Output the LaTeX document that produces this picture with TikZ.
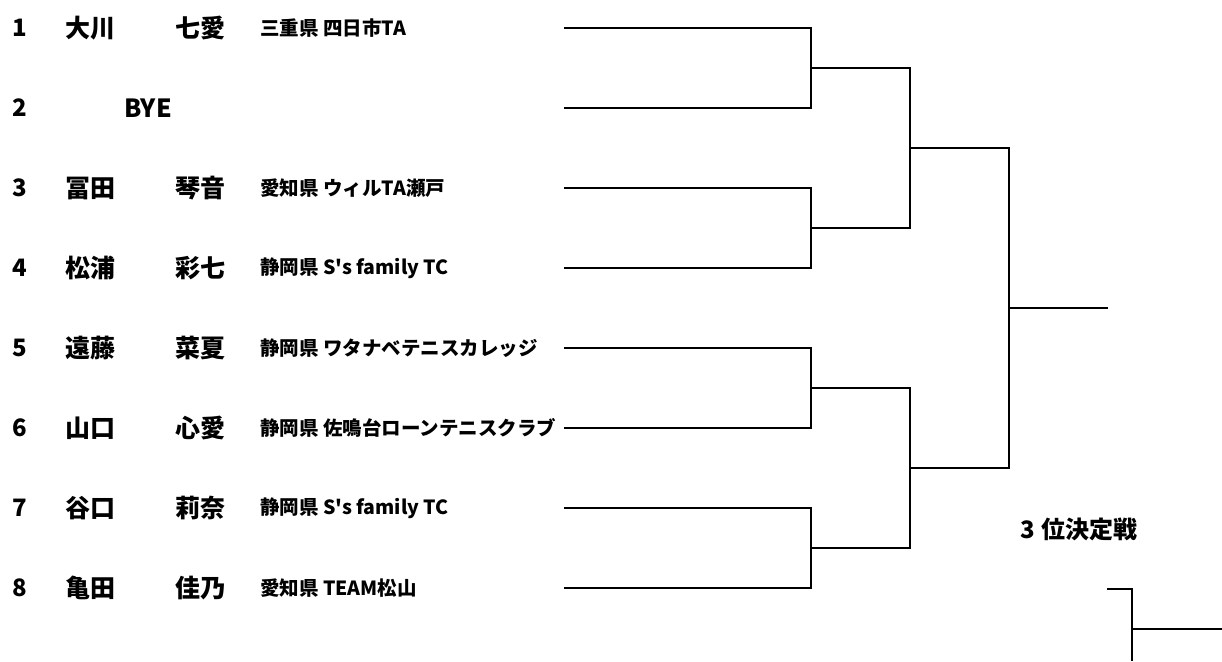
\documentclass[tikz,border=0pt]{standalone}
\usepackage{fontspec}
\newfontfamily\jpfont{Noto Sans CJK JP}
\tikzset{
  seed/.style={anchor=west, inner sep=0pt, font=\jpfont\bfseries\fontsize{24}{24}\selectfont},
  player/.style={anchor=west, inner sep=0pt, font=\jpfont\bfseries\fontsize{25}{25}\selectfont},
  club/.style={anchor=west, inner sep=0pt, font=\jpfont\bfseries\fontsize{19.5}{19.5}\selectfont},
  bracket/.style={line width=2pt, line join=miter}
}
\begin{document}
\begin{tikzpicture}[x=1pt, y=-1pt]
      \useasboundingbox (0,0) rectangle (1222,661);
      % entries
      \path
        (12,28) node[seed] (n1){1}
        (12,108) node[seed] (n2){2}
        (12,188) node[seed] (n3){3}
        (12,268) node[seed] (n4){4}
        (12,348) node[seed] (n5){5}
        (12,428) node[seed] (n6){6}
        (12,508) node[seed] (n7){7}
        (12,588) node[seed] (n8){8};
      \path
        (65,28) node[player] (sur1){大川}
        (175,28) node[player] (giv1){七愛}
        (260,28) node[club] (club1){三重県 四日市TA}
        (148,108) node[player, anchor=center] (bye){BYE}
        (65,188) node[player] (sur3){冨田}
        (175,188) node[player] (giv3){琴音}
        (260,188) node[club] (club3){愛知県 ウィルTA瀬戸}
        (65,268) node[player] (sur4){松浦}
        (175,268) node[player] (giv4){彩七}
        (260,268) node[club] (club4){静岡県 S's family TC}
        (65,348) node[player] (sur5){遠藤}
        (175,348) node[player] (giv5){菜夏}
        (260,348) node[club] (club5){静岡県 ワタナベテニスカレッジ}
        (65,428) node[player] (sur6){山口}
        (175,428) node[player] (giv6){心愛}
        (260,428) node[club] (club6){静岡県 佐鳴台ローンテニスクラブ}
        (65,508) node[player] (sur7){谷口}
        (175,508) node[player] (giv7){莉奈}
        (260,508) node[club] (club7){静岡県 S's family TC}
        (65,588) node[player] (sur8){亀田}
        (175,588) node[player] (giv8){佳乃}
        (260,588) node[club] (club8){愛知県 TEAM松山};
      \node[player, anchor=center, font=\jpfont\bfseries\fontsize{24}{24}\selectfont] (third) at (1079,529) {3 位決定戦};
      % bracket points
      \coordinate (e1) at (564,28);
      \coordinate (e2) at (564,108);
      \coordinate (e3) at (564,188);
      \coordinate (e4) at (564,268);
      \coordinate (e5) at (564,348);
      \coordinate (e6) at (564,428);
      \coordinate (e7) at (564,508);
      \coordinate (e8) at (564,588);
      \coordinate (q1) at (811,68);
      \coordinate (q2) at (811,228);
      \coordinate (q3) at (811,388);
      \coordinate (q4) at (811,548);
      \coordinate (s1) at (910,148);
      \coordinate (s2) at (910,468);
      \coordinate (f) at (1009,308);
      \coordinate (win) at (1108,308);
      \coordinate (t1) at (1107,589);
      \coordinate (t2) at (1132,661);
      \coordinate (t3) at (1132,629);
      \coordinate (t4) at (1222,629);
      \begin{scope}[bracket]
        \draw (e1) -| (q1);
        \draw (e2) -| (q1);
        \draw (e3) -| (q2);
        \draw (e4) -| (q2);
        \draw (e5) -| (q3);
        \draw (e6) -| (q3);
        \draw (e7) -| (q4);
        \draw (e8) -| (q4);
        \draw (q1) -| (s1);
        \draw (q2) -| (s1);
        \draw (q3) -| (s2);
        \draw (q4) -| (s2);
        \draw (s1) -| (f);
        \draw (s2) -| (f);
        \draw (f) -- (win);
        \draw (t1) -| (t2);
        \draw (t3) -- (t4);
      \end{scope}
    \end{tikzpicture}
\end{document}
